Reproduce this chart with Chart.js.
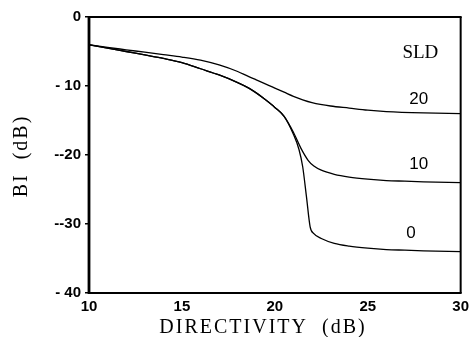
<!DOCTYPE html>
<html>
<head>
<meta charset="utf-8">
<script src="https://cdn.jsdelivr.net/npm/chart.js@4.4.0/dist/chart.umd.min.js"></script>
<style>
  html, body { margin: 0; padding: 0; background: #fff; }
</style>
</head>
<body>
<canvas id="c" width="474" height="337"></canvas>
<script>
// ---- data ----
const sld0X = [10, 11, 12, 13, 14, 15, 16, 17, 18, 18.6, 19, 19.5, 20, 20.5, 21, 21.3, 21.5, 21.7, 21.9, 22.1, 22.5, 23.2, 24, 25, 26, 27, 28, 30];
const sld0Y = [-4.05, -4.5, -5.0, -5.5, -6.0, -6.6, -7.5, -8.4, -9.5, -10.3, -11.0, -12.0, -13.1, -14.4, -17.0, -19.2, -21.7, -26.0, -30.4, -31.4, -32.1, -32.8, -33.2, -33.5, -33.7, -33.8, -33.9, -34.0];

const sld10X = [10, 11, 12, 13, 14, 15, 16, 17, 18, 18.6, 19, 19.5, 20, 20.5, 21, 21.4, 21.8, 22.1, 22.5, 23.2, 24, 25, 26, 27, 28, 30];
const sld10Y = [-4.05, -4.5, -5.0, -5.5, -6.0, -6.6, -7.5, -8.4, -9.5, -10.3, -11.0, -12.0, -13.1, -14.4, -16.7, -19.0, -20.8, -21.6, -22.2, -22.8, -23.2, -23.5, -23.7, -23.8, -23.9, -24.0];

const sld20X = [10, 11, 12, 13, 14, 15, 16, 17, 18, 18.6, 19, 20, 20.5, 21, 21.5, 22, 23, 24, 25, 26, 28, 30];
const sld20Y = [-4.0, -4.4, -4.75, -5.1, -5.45, -5.8, -6.25, -6.95, -7.9, -8.65, -9.1, -10.3, -10.9, -11.5, -12.0, -12.4, -12.9, -13.2, -13.5, -13.7, -13.9, -14.0];

const xTickValues = [10, 15, 20, 25, 30];
const xTickLabels = ['10', '15', '20', '25', '30'];
const yTickValues = [0, -10, -20, -30, -40];
const yTickLabels = ['0', '- 10', '--20', '--30', '- 40'];

const curveLabels = [
  { text: 'SLD', x: 27.83, y: -5.2, serif: true },
  { text: '20', x: 27.74, y: -12.0 },
  { text: '10', x: 27.74, y: -21.3 },
  { text: '0', x: 27.33, y: -31.4 }
];

const xTitle = 'DIRECTIVITY  (dB)';
const yTitle = 'BI  (dB)';

function pts(xs, ys) { return xs.map((x, i) => ({ x: x, y: ys[i] })); }

const lineStyle = {
  borderColor: '#000',
  borderWidth: 1.3,
  pointRadius: 0,
  fill: false,
  cubicInterpolationMode: 'monotone'
};

const framePlugin = {
  id: 'frame',
  afterDraw(chart) {
    const ctx = chart.ctx;
    const a = chart.chartArea;
    const xs = chart.scales.x, ys = chart.scales.y;
    ctx.save();
    ctx.strokeStyle = 'black';
    ctx.lineWidth = 2;
    ctx.beginPath(); ctx.moveTo(a.left, a.top); ctx.lineTo(a.right + 1, a.top); ctx.stroke();
    ctx.beginPath(); ctx.moveTo(a.right, a.top); ctx.lineTo(a.right, a.bottom); ctx.stroke();
    ctx.lineWidth = 2.2;
    ctx.beginPath(); ctx.moveTo(a.left, a.bottom); ctx.lineTo(a.right + 1, a.bottom); ctx.stroke();
    ctx.lineWidth = 2.8;
    ctx.beginPath(); ctx.moveTo(a.left, a.top - 1); ctx.lineTo(a.left, a.bottom + 1); ctx.stroke();

    ctx.fillStyle = 'black';
    ctx.textAlign = 'center';
    ctx.textBaseline = 'middle';
    curveLabels.forEach(l => {
      ctx.font = l.serif ? '19px "Liberation Serif", "DejaVu Serif", serif' : '17px "Liberation Sans", Arial, sans-serif';
      ctx.fillText(l.text, xs.getPixelForValue(l.x), ys.getPixelForValue(l.y));
    });

    ctx.font = '20px "Liberation Serif", "DejaVu Serif", serif';
    try { ctx.letterSpacing = '2px'; } catch (e) {}
    ctx.fillText(xTitle, 263, 328);
    ctx.save();
    ctx.translate(22, 156);
    ctx.rotate(-Math.PI / 2);
    ctx.fillText(yTitle, 0, 0);
    ctx.restore();
    try { ctx.letterSpacing = '0px'; } catch (e) {}
    ctx.restore();
  }
};

new Chart(document.getElementById('c'), {
  type: 'line',
  data: {
    datasets: [
      Object.assign({ label: 'SLD 0', data: pts(sld0X, sld0Y) }, lineStyle),
      Object.assign({ label: 'SLD 10', data: pts(sld10X, sld10Y) }, lineStyle),
      Object.assign({ label: 'SLD 20', data: pts(sld20X, sld20Y) }, lineStyle)
    ]
  },
  options: {
    responsive: false,
    animation: false,
    layout: { padding: { top: 17, right: 10, left: 0, bottom: 0 } },
    plugins: { legend: { display: false }, tooltip: { enabled: false } },
    scales: {
      x: {
        type: 'linear',
        min: 10, max: 30,
        afterBuildTicks(s) { s.ticks = xTickValues.map(v => ({ value: v })); },
        afterFit(s) { s.height = 44; },
        grid: { display: false, drawTicks: false },
        border: { display: false },
        ticks: {
          color: '#000',
          padding: 5,
          maxRotation: 0,
          font: { family: '"Liberation Sans", Arial, sans-serif', size: 15, weight: 'bold' },
          callback(v) { const i = xTickValues.indexOf(v); return i >= 0 ? xTickLabels[i] : ''; }
        }
      },
      y: {
        type: 'linear',
        min: -40, max: 0,
        afterBuildTicks(s) { s.ticks = yTickValues.map(v => ({ value: v })); },
        afterFit(s) { s.width = 89; },
        grid: { display: true, drawOnChartArea: false, drawTicks: true, tickLength: 4, color: '#000', lineWidth: 1.5 },
        border: { display: false },
        ticks: {
          color: '#000',
          padding: 4,
          font: { family: '"Liberation Sans", Arial, sans-serif', size: 15, weight: 'bold' },
          callback(v) { const i = yTickValues.indexOf(v); return i >= 0 ? yTickLabels[i] : ''; }
        }
      }
    }
  },
  plugins: [framePlugin]
});
</script>
</body>
</html>
